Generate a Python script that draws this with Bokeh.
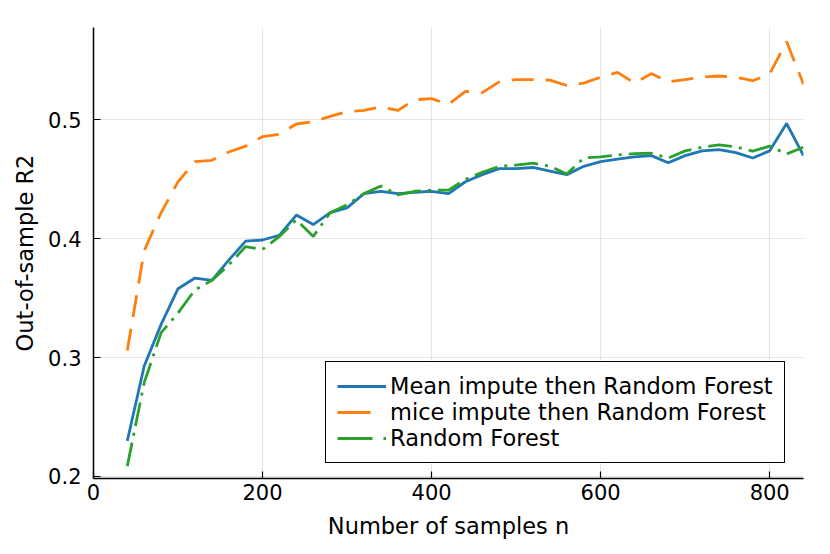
from bokeh.plotting import figure
from bokeh.models import Range1d, FixedTicker, Legend, LegendItem
from bokeh.embed import file_html
from bokeh.resources import INLINE

# ---- data ----
n_samples = [40, 60, 80, 100, 120, 140, 160, 180, 200, 220,
             240, 260, 280, 300, 320, 340, 360, 380, 400, 420,
             440, 460, 480, 500, 520, 540, 560, 580, 600, 620,
             640, 660, 680, 700, 720, 740, 760, 780, 800, 820, 840]

mean_rf = [0.230, 0.293, 0.328, 0.358, 0.367, 0.365, 0.382, 0.398, 0.399, 0.403,
           0.420, 0.412, 0.422, 0.426, 0.438, 0.440, 0.438, 0.439, 0.440, 0.438,
           0.448, 0.454, 0.459, 0.459, 0.460, 0.457, 0.454, 0.461, 0.465, 0.467,
           0.469, 0.470, 0.464, 0.470, 0.474, 0.475, 0.4725, 0.468, 0.474, 0.497, 0.470]

mice_rf = [0.306, 0.390, 0.422, 0.448, 0.465, 0.466, 0.473, 0.478, 0.486, 0.488,
           0.4966, 0.4986, 0.503, 0.507, 0.508, 0.511, 0.508, 0.517, 0.518, 0.513,
           0.524, 0.523, 0.532, 0.534, 0.534, 0.5335, 0.529, 0.531, 0.536, 0.540,
           0.531, 0.539, 0.532, 0.534, 0.536, 0.537, 0.536, 0.533, 0.5387, 0.566, 0.530]

plain_rf = [0.2087, 0.279, 0.321, 0.3375, 0.357, 0.365, 0.378, 0.3935, 0.391, 0.402,
            0.416, 0.402, 0.422, 0.4286, 0.438, 0.4445, 0.437, 0.440, 0.441, 0.441,
            0.450, 0.456, 0.461, 0.462, 0.4636, 0.461, 0.4546, 0.468, 0.469, 0.4706,
            0.4716, 0.472, 0.468, 0.474, 0.477, 0.479, 0.4773, 0.4737, 0.478, 0.4714, 0.477]

labels = ["Mean impute then Random Forest",
          "mice impute then Random Forest",
          "Random Forest"]

x_ticks = [0, 200, 400, 600, 800]
y_ticks = [0.2, 0.3, 0.4, 0.5]

FONT = "DejaVu Sans"
BLUE = "#1f77b4"
ORANGE = "#ff7f0e"
GREEN = "#2ca02c"
NAN = float("nan")

p = figure(width=830, height=554,
           x_range=Range1d(0, 840), y_range=Range1d(0.1983, 0.5778),
           output_backend="svg", toolbar_location=None,
           min_border_left=93, min_border_right=27,
           min_border_top=27, min_border_bottom=76)
p.outline_line_color = None
p.background_fill_color = "white"
p.border_fill_color = "white"

r1 = p.line(n_samples, mean_rf, line_color=BLUE, line_width=2.8)
r2 = p.line(n_samples, mice_rf, line_color=ORANGE, line_width=2.8,
            line_dash="22 12")
r3 = p.line(n_samples, plain_rf, line_color=GREEN, line_width=2.8,
            line_dash="24 7 3 7")

# legend-only glyphs (nothing visible in the plot) to mimic the reference's legend samples
l1 = p.line([NAN], [NAN], line_color=BLUE, line_width=2.8)
l2 = p.line([NAN], [NAN], line_color=ORANGE, line_width=2.8, line_dash="33 40")
l3 = p.line([NAN], [NAN], line_color=GREEN, line_width=2.8, line_dash="35 11 3 40")

legend = Legend(items=[LegendItem(label=labels[0], renderers=[l1]),
                       LegendItem(label=labels[1], renderers=[l2]),
                       LegendItem(label=labels[2], renderers=[l3])],
                location=(232, 15), margin=0, padding=11, spacing=0,
                glyph_width=49, glyph_height=20, label_height=20,
                label_standoff=4,
                label_text_font=FONT, label_text_font_size="22.5px",
                label_text_color="black",
                border_line_color="black", border_line_width=1.5,
                border_line_alpha=1.0,
                background_fill_color="white", background_fill_alpha=1.0)
p.add_layout(legend, "center")

for ax in (p.xaxis[0], p.yaxis[0]):
    ax.axis_line_color = "black"
    ax.axis_line_width = 1.5
    ax.major_tick_line_color = "black"
    ax.major_tick_line_width = 1.2
    ax.major_tick_in = 7
    ax.major_tick_out = 0
    ax.minor_tick_line_color = None
    ax.major_label_text_font = FONT
    ax.major_label_text_font_size = "21px"
    ax.major_label_text_color = "black"
    ax.axis_label_text_font = FONT
    ax.axis_label_text_font_size = "22.5px"
    ax.axis_label_text_font_style = "normal"
    ax.axis_label_text_color = "black"

p.xaxis[0].ticker = FixedTicker(ticks=x_ticks)
p.yaxis[0].ticker = FixedTicker(ticks=y_ticks)
p.xaxis[0].major_label_overrides = {t: str(t) for t in x_ticks}
p.yaxis[0].major_label_overrides = {t: f"{t:.1f}" for t in y_ticks}
p.xaxis[0].axis_label = "Number of samples n"
p.yaxis[0].axis_label = "Out-of-sample R2"
p.xaxis[0].major_label_standoff = 5
p.yaxis[0].major_label_standoff = 12
p.xaxis[0].axis_label_standoff = 10
p.yaxis[0].axis_label_standoff = 7

p.xgrid.ticker = FixedTicker(ticks=x_ticks)
p.ygrid.ticker = FixedTicker(ticks=y_ticks)
for g in (p.xgrid[0], p.ygrid[0]):
    g.grid_line_color = "black"
    g.grid_line_alpha = 0.1
    g.grid_line_width = 1

open("out.html", "w").write(file_html(p, INLINE))
